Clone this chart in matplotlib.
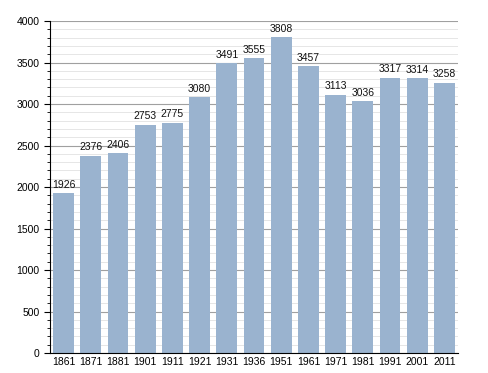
import matplotlib
matplotlib.use("Agg")
import matplotlib.pyplot as plt
from matplotlib.ticker import MultipleLocator

years = ["1861", "1871", "1881", "1901", "1911", "1921", "1931", "1936", "1951",
         "1961", "1971", "1981", "1991", "2001", "2011"]
population = [1926, 2376, 2406, 2753, 2775, 3080, 3491, 3555, 3808,
              3457, 3113, 3036, 3317, 3314, 3258]

plt.rcParams['font.family'] = ['Liberation Sans', 'DejaVu Sans']

fig = plt.figure(figsize=(4.88, 3.73), dpi=100)
ax = fig.add_axes([0.1025, 0.0536, 0.836, 0.8901])

x = range(len(years))
bars = ax.bar(x, population, width=0.76, color="#9ab3cf", zorder=3)
for xi, v in zip(x, population):
    ax.text(xi, v + 40, str(v), ha="center", va="bottom", fontsize=7.5, color="#111111", zorder=4)

ax.set_xlim(-0.5, len(years) - 0.5)
ax.set_ylim(0, 4000)
ax.set_xticks(list(x))
ax.set_xticklabels(years, fontsize=7.5)
ax.yaxis.set_major_locator(MultipleLocator(500))
ax.yaxis.set_minor_locator(MultipleLocator(100))
ax.tick_params(axis="y", which="major", labelsize=7.5, length=4, width=0.8, direction="out")
ax.tick_params(axis="y", which="minor", length=2, width=0.6, direction="out")
ax.tick_params(axis="x", length=0, pad=3)

ax.grid(axis="y", which="major", color="#a0a0a0", linewidth=0.8, zorder=1)
ax.grid(axis="y", which="minor", color="#e2e2e2", linewidth=0.6, zorder=0)
ax.set_axisbelow(True)

for s in ["top", "right"]:
    ax.spines[s].set_visible(False)
ax.spines["left"].set_color("black")
ax.spines["bottom"].set_color("black")
ax.spines["left"].set_zorder(5)
ax.spines["bottom"].set_zorder(5)

fig.savefig("out.png", dpi=100)
